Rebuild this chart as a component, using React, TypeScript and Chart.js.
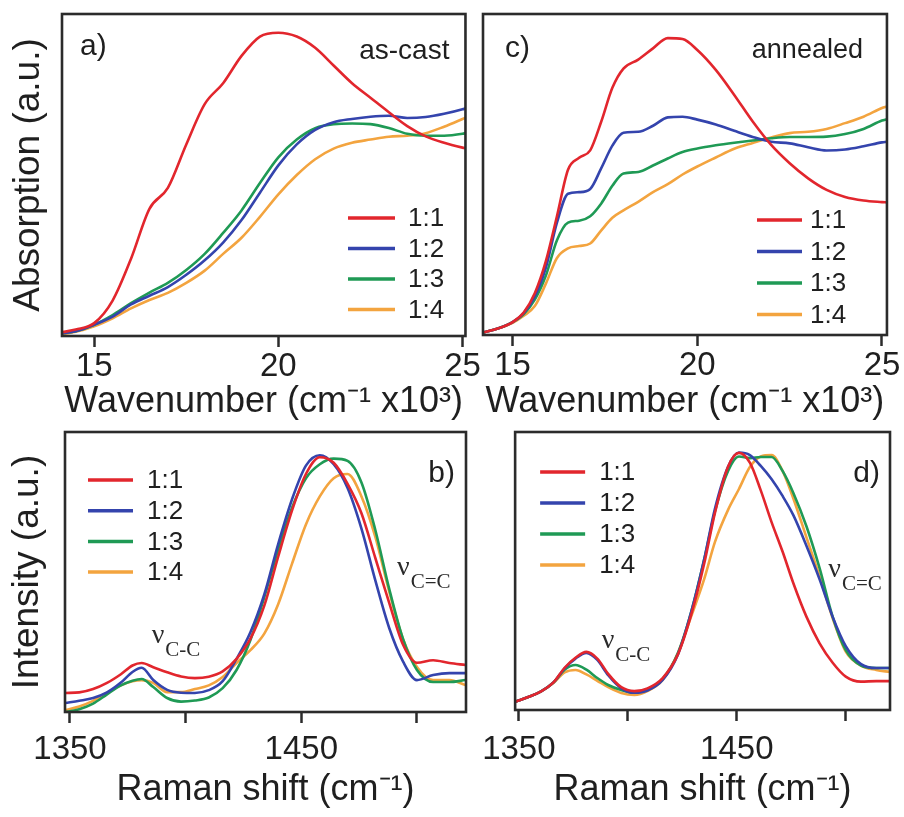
import React, { useEffect, useRef } from "react";
import { Chart, registerables } from "chart.js";

Chart.register(...registerables);

const FONT = "'Liberation Sans', Arial, Helvetica, sans-serif";
const SERIF = "'Liberation Serif', 'Times New Roman', serif";
const INK = "#1f1f1f";

// ---- shared series info ----
const seriesLabels = ["1:1", "1:2", "1:3", "1:4"];
const seriesColors = ["#e2262d", "#3444ad", "#1f9a55", "#f3a43f"];

// ---- tick values ----
const absTicks = [15, 20, 25];
const ramanTicks = [1350, 1400, 1450, 1500];
const ramanLabeledTicks = [1350, 1450];

// ---- a) absorption, as-cast (wavenumber x10^3 cm-1) ----
const asCastX = [14.13, 14.5, 15, 15.5, 16, 16.5, 17, 17.5, 18, 18.5, 19, 19.5, 20, 20.5, 21, 21.5, 22, 22.5, 23, 23.5, 24, 24.5, 25, 25.08];
const asCast11 = [0.012, 0.02, 0.04, 0.11, 0.24, 0.395, 0.46, 0.595, 0.72, 0.785, 0.87, 0.93, 0.942, 0.93, 0.895, 0.84, 0.785, 0.74, 0.695, 0.652, 0.62, 0.6, 0.585, 0.583];
const asCast12 = [0.008, 0.015, 0.035, 0.06, 0.098, 0.125, 0.152, 0.19, 0.235, 0.29, 0.36, 0.445, 0.53, 0.595, 0.64, 0.664, 0.674, 0.681, 0.684, 0.677, 0.68, 0.69, 0.704, 0.707];
const asCast13 = [0.008, 0.015, 0.035, 0.065, 0.102, 0.135, 0.165, 0.205, 0.255, 0.32, 0.39, 0.475, 0.555, 0.61, 0.645, 0.658, 0.66, 0.658, 0.646, 0.628, 0.622, 0.622, 0.628, 0.63];
const asCast14 = [0.006, 0.013, 0.03, 0.055, 0.086, 0.112, 0.134, 0.165, 0.203, 0.255, 0.305, 0.37, 0.44, 0.5, 0.549, 0.582, 0.6, 0.61, 0.619, 0.622, 0.63, 0.65, 0.674, 0.678];

// ---- c) absorption, annealed ----
const annealX = [14.2, 14.6, 15.0, 15.3, 15.6, 15.9, 16.2, 16.5, 16.8, 17.1, 17.4, 17.7, 18.0, 18.4, 18.8, 19.2, 19.6, 20.0, 20.5, 21.0, 21.5, 22.0, 22.5, 23.0, 23.5, 24.0, 24.5, 25.0, 25.13];
const anneal11 = [0.008, 0.02, 0.04, 0.07, 0.13, 0.23, 0.37, 0.515, 0.552, 0.575, 0.665, 0.77, 0.83, 0.858, 0.893, 0.925, 0.922, 0.888, 0.826, 0.748, 0.665, 0.592, 0.535, 0.488, 0.452, 0.43, 0.419, 0.414, 0.413];
const anneal12 = [0.008, 0.02, 0.04, 0.068, 0.12, 0.21, 0.35, 0.44, 0.445, 0.455, 0.52, 0.59, 0.63, 0.633, 0.652, 0.678, 0.68, 0.671, 0.656, 0.636, 0.617, 0.602, 0.597, 0.585, 0.575, 0.578, 0.588, 0.6, 0.602];
const anneal13 = [0.008, 0.02, 0.04, 0.065, 0.11, 0.185, 0.295, 0.35, 0.356, 0.37, 0.41, 0.465, 0.503, 0.508, 0.528, 0.55, 0.57, 0.581, 0.591, 0.599, 0.606, 0.613, 0.617, 0.617, 0.618, 0.626, 0.642, 0.668, 0.672];
const anneal14 = [0.008, 0.02, 0.038, 0.06, 0.09, 0.16, 0.24, 0.27, 0.277, 0.285, 0.326, 0.365, 0.388, 0.415, 0.445, 0.47, 0.5, 0.525, 0.553, 0.58, 0.598, 0.615, 0.629, 0.633, 0.642, 0.66, 0.68, 0.707, 0.712];

// ---- b) Raman, as-cast (cm-1) ----
const ramanCastX = [1348, 1354, 1360, 1366, 1372, 1377, 1381, 1386, 1392, 1398, 1404, 1410, 1416, 1422, 1428, 1434, 1440, 1446, 1452, 1458, 1464, 1470, 1476, 1482, 1488, 1494, 1500, 1507, 1514, 1521];
const ramanCast11 = [0.068, 0.07, 0.082, 0.104, 0.135, 0.166, 0.175, 0.16, 0.142, 0.127, 0.121, 0.126, 0.145, 0.19, 0.262, 0.38, 0.555, 0.72, 0.85, 0.91, 0.89, 0.815, 0.71, 0.55, 0.39, 0.24, 0.176, 0.185, 0.175, 0.168];
const ramanCast12 = [0.032, 0.04, 0.05, 0.07, 0.105, 0.143, 0.158, 0.114, 0.079, 0.069, 0.068, 0.078, 0.11, 0.19, 0.285, 0.42, 0.6, 0.76, 0.88, 0.917, 0.885, 0.8, 0.655, 0.47, 0.3, 0.18, 0.114, 0.132, 0.139, 0.139];
const ramanCast13 = [0.0, 0.01, 0.03, 0.063, 0.095, 0.112, 0.118, 0.089, 0.05, 0.037, 0.041, 0.052, 0.085, 0.15, 0.257, 0.41, 0.58, 0.73, 0.835, 0.885, 0.905, 0.897, 0.82, 0.65, 0.44, 0.26, 0.15, 0.107, 0.107, 0.114];
const ramanCast14 = [0.007, 0.02, 0.04, 0.068, 0.095, 0.11, 0.114, 0.104, 0.071, 0.071, 0.082, 0.095, 0.125, 0.175, 0.221, 0.28, 0.385, 0.53, 0.67, 0.77, 0.835, 0.85, 0.77, 0.625, 0.43, 0.26, 0.161, 0.114, 0.114, 0.096];

// ---- d) Raman, annealed ----
const ramanAnnX = [1348.5, 1354, 1360, 1366, 1371, 1376, 1381, 1386, 1391, 1397, 1403, 1409, 1416, 1423, 1429, 1435, 1440, 1446, 1451, 1456, 1461, 1466, 1471, 1476, 1482, 1488, 1494, 1500, 1507, 1514, 1520.3];
const ramanAnn11 = [0.03, 0.046, 0.066, 0.1, 0.152, 0.188, 0.209, 0.185, 0.13, 0.082, 0.068, 0.078, 0.115, 0.2, 0.34, 0.525, 0.71, 0.875, 0.925, 0.89, 0.79, 0.675, 0.57, 0.455, 0.335, 0.24, 0.17, 0.12, 0.102, 0.104, 0.104];
const ramanAnn12 = [0.03, 0.046, 0.066, 0.1, 0.15, 0.185, 0.205, 0.18, 0.125, 0.078, 0.062, 0.07, 0.108, 0.2, 0.35, 0.54, 0.725, 0.875, 0.926, 0.917, 0.878, 0.83, 0.77, 0.7, 0.59, 0.47, 0.335, 0.23, 0.165, 0.151, 0.151];
const ramanAnn13 = [0.03, 0.046, 0.066, 0.1, 0.145, 0.162, 0.145, 0.115, 0.09, 0.072, 0.062, 0.075, 0.112, 0.205, 0.35, 0.54, 0.715, 0.86, 0.912, 0.906, 0.91, 0.91, 0.86, 0.78, 0.66, 0.51, 0.335, 0.215, 0.16, 0.151, 0.151];
const ramanAnn14 = [0.03, 0.046, 0.066, 0.098, 0.135, 0.144, 0.128, 0.105, 0.082, 0.061, 0.054, 0.068, 0.108, 0.205, 0.335, 0.47, 0.605, 0.72, 0.795, 0.874, 0.912, 0.917, 0.86, 0.76, 0.62, 0.48, 0.33, 0.21, 0.16, 0.144, 0.137];

// ---- band annotations (data coordinates) ----
const bandsCast = [
  { x: 1385.3, y: 0.246, sub: "C-C" },
  { x: 1491.4, y: 0.489, sub: "C=C" },
];
const bandsAnn = [
  { x: 1388.0, y: 0.223, sub: "C-C" },
  { x: 1492.0, y: 0.478, sub: "C=C" },
];

const absTitle = "Wavenumber (cm\u207B\u00B9 x10\u00B3)";
const ramanTitle = "Raman shift (cm\u207B\u00B9)";

type Spec = {
  key: string;
  left: number; top: number; w: number; h: number;
  padLeft: number; padRight: number; padTop: number;
  yAxisWidth: number; xAxisHeight: number;
  xMin: number; xMax: number;
  ticks: number[]; labeled: number[]; tickPad: number;
  xTitle: string; xTitlePad: number;
  yTitle?: string; yTitlePad?: number;
  x: number[]; ys: number[][];
  legend: { dx: number; dy: number; gap: number; lineLen: number; textGap: number };
  texts: { text: string; align: "left" | "right"; dx: number; dy: number; size: number }[];
  bands?: { x: number; y: number; sub: string }[];
};

const specs: Spec[] = [
  {
    key: "a", left: 0, top: 0, w: 484, h: 430,
    padLeft: 0, padRight: 18, padTop: 14, yAxisWidth: 62, xAxisHeight: 94,
    xMin: 14.126, xMax: 25.08, ticks: absTicks, labeled: absTicks, tickPad: 3,
    xTitle: absTitle, xTitlePad: 9.5, yTitle: "Absorption (a.u.)", yTitlePad: 10,
    x: asCastX, ys: [asCast11, asCast12, asCast13, asCast14],
    legend: { dx: 286, dy: 204, gap: 30.5, lineLen: 47, textGap: 13 },
    texts: [
      { text: "a)", align: "left", dx: 18, dy: 41, size: 30 },
      { text: "as-cast", align: "right", dx: -16, dy: 45, size: 28 },
    ],
  },
  {
    key: "c", left: 470, top: 0, w: 434, h: 430,
    padLeft: 13, padRight: 12, padTop: 14, yAxisWidth: 0, xAxisHeight: 95,
    xMin: 14.198, xMax: 25.134, ticks: absTicks, labeled: absTicks, tickPad: 3.5,
    xTitle: absTitle, xTitlePad: 9.5,
    x: annealX, ys: [anneal11, anneal12, anneal13, anneal14],
    legend: { dx: 274, dy: 206, gap: 31.5, lineLen: 45, textGap: 8 },
    texts: [
      { text: "c)", align: "left", dx: 22, dy: 43, size: 30 },
      { text: "annealed", align: "right", dx: -24, dy: 44, size: 27 },
    ],
  },
  {
    key: "b", left: 0, top: 400, w: 484, h: 417,
    padLeft: 0, padRight: 18, padTop: 32, yAxisWidth: 65, xAxisHeight: 105,
    xMin: 1347.84, xMax: 1521.2, ticks: ramanTicks, labeled: ramanLabeledTicks, tickPad: 10,
    xTitle: ramanTitle, xTitlePad: 9, yTitle: "Intensity (a.u.)", yTitlePad: 9,
    x: ramanCastX, ys: [ramanCast11, ramanCast12, ramanCast13, ramanCast14],
    legend: { dx: 23, dy: 48, gap: 30.7, lineLen: 45, textGap: 14 },
    texts: [{ text: "b)", align: "right", dx: -11, dy: 50, size: 30 }],
    bands: bandsCast,
  },
  {
    key: "d", left: 470, top: 400, w: 434, h: 417,
    padLeft: 13, padRight: 14, padTop: 32, yAxisWidth: 0, xAxisHeight: 107,
    xMin: 1348.3, xMax: 1520.3, ticks: ramanTicks, labeled: ramanLabeledTicks, tickPad: 12,
    xTitle: ramanTitle, xTitlePad: 9,
    x: ramanAnnX, ys: [ramanAnn11, ramanAnn12, ramanAnn13, ramanAnn14],
    legend: { dx: 25, dy: 40, gap: 31, lineLen: 45, textGap: 14 },
    texts: [{ text: "d)", align: "right", dx: -10, dy: 50, size: 30 }],
    bands: bandsAnn,
  },
];

// ---- plugins ----
const frameBox = {
  id: "frameBox",
  afterDatasetsDraw(chart: any) {
    const { ctx, chartArea: a } = chart;
    ctx.save();
    ctx.strokeStyle = "#2b2b2b";
    ctx.lineWidth = 2.6;
    ctx.strokeRect(a.left, a.top, a.right - a.left, a.bottom - a.top);
    ctx.restore();
  },
};

const insetLegend = {
  id: "insetLegend",
  afterDraw(chart: any, _args: any, opts: any) {
    const { ctx, chartArea: a } = chart;
    ctx.save();
    ctx.font = `26px ${FONT}`;
    ctx.textBaseline = "middle";
    ctx.textAlign = "left";
    chart.data.datasets.forEach((ds: any, i: number) => {
      const y = a.top + opts.dy + i * opts.gap;
      const x0 = a.left + opts.dx;
      ctx.strokeStyle = ds.borderColor;
      ctx.lineWidth = 3.5;
      ctx.beginPath();
      ctx.moveTo(x0, y);
      ctx.lineTo(x0 + opts.lineLen, y);
      ctx.stroke();
      ctx.fillStyle = INK;
      ctx.fillText(ds.label, x0 + opts.lineLen + opts.textGap, y + 1);
    });
    ctx.restore();
  },
};

const panelTexts = {
  id: "panelTexts",
  afterDraw(chart: any, _args: any, opts: any) {
    const { ctx, chartArea: a } = chart;
    ctx.save();
    ctx.fillStyle = INK;
    ctx.textBaseline = "alphabetic";
    (opts.items || []).forEach((t: any) => {
      ctx.font = `${t.size}px ${FONT}`;
      ctx.textAlign = t.align;
      const x = t.align === "left" ? a.left + t.dx : a.right + t.dx;
      ctx.fillText(t.text, x, a.top + t.dy);
    });
    ctx.restore();
  },
};

const bandLabels = {
  id: "bandLabels",
  afterDraw(chart: any, _args: any, opts: any) {
    const items = opts.items || [];
    if (!items.length) return;
    const { ctx } = chart;
    const xs = chart.scales.x;
    const ysc = chart.scales.y;
    ctx.save();
    ctx.fillStyle = "#2a2a2a";
    ctx.textAlign = "left";
    ctx.textBaseline = "alphabetic";
    items.forEach((b: any) => {
      const px = xs.getPixelForValue(b.x);
      const py = ysc.getPixelForValue(b.y);
      ctx.font = `28px ${SERIF}`;
      ctx.fillText("\u03BD", px, py);
      const w = ctx.measureText("\u03BD").width;
      ctx.font = `21px ${SERIF}`;
      ctx.fillText(b.sub, px + w + 1, py + 13);
    });
    ctx.restore();
  },
};

function buildConfig(s: Spec): any {
  const datasets = s.ys.map((vals, i) => ({
    label: seriesLabels[i],
    data: s.x.map((xv, j) => ({ x: xv, y: vals[j] })),
    borderColor: seriesColors[i],
    backgroundColor: seriesColors[i],
    borderWidth: 2.6,
    pointRadius: 0,
    fill: false,
    cubicInterpolationMode: "monotone",
  }));
  return {
    type: "line",
    data: { datasets },
    plugins: [frameBox, insetLegend, panelTexts, bandLabels],
    options: {
      animation: false,
      responsive: false,
      devicePixelRatio: 1,
      events: [],
      layout: {
        autoPadding: false,
        padding: { left: s.padLeft, right: s.padRight, top: s.padTop, bottom: 0 },
      },
      plugins: {
        legend: { display: false },
        tooltip: { enabled: false },
        insetLegend: s.legend,
        panelTexts: { items: s.texts },
        bandLabels: { items: s.bands || [] },
      },
      scales: {
        x: {
          type: "linear",
          position: "bottom",
          min: s.xMin,
          max: s.xMax,
          afterBuildTicks: (sc: any) => {
            sc.ticks = s.ticks.map((v) => ({ value: v }));
          },
          afterFit: (sc: any) => {
            sc.height = s.xAxisHeight;
          },
          ticks: {
            autoSkip: false,
            maxRotation: 0,
            minRotation: 0,
            padding: s.tickPad,
            color: INK,
            font: { family: FONT, size: 33, lineHeight: 1 },
            callback: (v: any) => (s.labeled.includes(v) ? String(v) : ""),
          },
          grid: {
            display: true,
            drawOnChartArea: false,
            drawTicks: true,
            tickLength: 11,
            tickWidth: 2.5,
            tickColor: "#2b2b2b",
          },
          border: { display: false },
          title: {
            display: true,
            text: s.xTitle,
            color: INK,
            font: { family: FONT, size: 36, lineHeight: 1 },
            padding: { top: 0, bottom: s.xTitlePad },
          },
        },
        y: {
          type: "linear",
          min: 0,
          max: 1,
          display: !!s.yTitle,
          afterFit: (sc: any) => {
            sc.width = s.yAxisWidth;
          },
          ticks: { display: false },
          grid: { display: false },
          border: { display: false },
          title: {
            display: !!s.yTitle,
            text: s.yTitle || "",
            color: INK,
            font: { family: FONT, size: 37, lineHeight: 1 },
            padding: { top: s.yTitlePad || 0, bottom: 0 },
          },
        },
      },
    },
  };
}

function Panel({ spec }: { spec: Spec }) {
  const ref = useRef<HTMLCanvasElement | null>(null);
  useEffect(() => {
    if (!ref.current) return;
    const chart = new Chart(ref.current, buildConfig(spec));
    return () => chart.destroy();
  }, [spec]);
  return (
    <canvas
      ref={ref}
      width={spec.w}
      height={spec.h}
      style={{ position: "absolute", left: spec.left, top: spec.top, width: spec.w, height: spec.h }}
    />
  );
}

export default function App() {
  return (
    <div
      style={{
        position: "absolute",
        left: 0,
        top: 0,
        width: 904,
        height: 817,
        background: "#ffffff",
        overflow: "hidden",
      }}
    >
      {specs.map((s) => (
        <Panel key={s.key} spec={s} />
      ))}
    </div>
  );
}
